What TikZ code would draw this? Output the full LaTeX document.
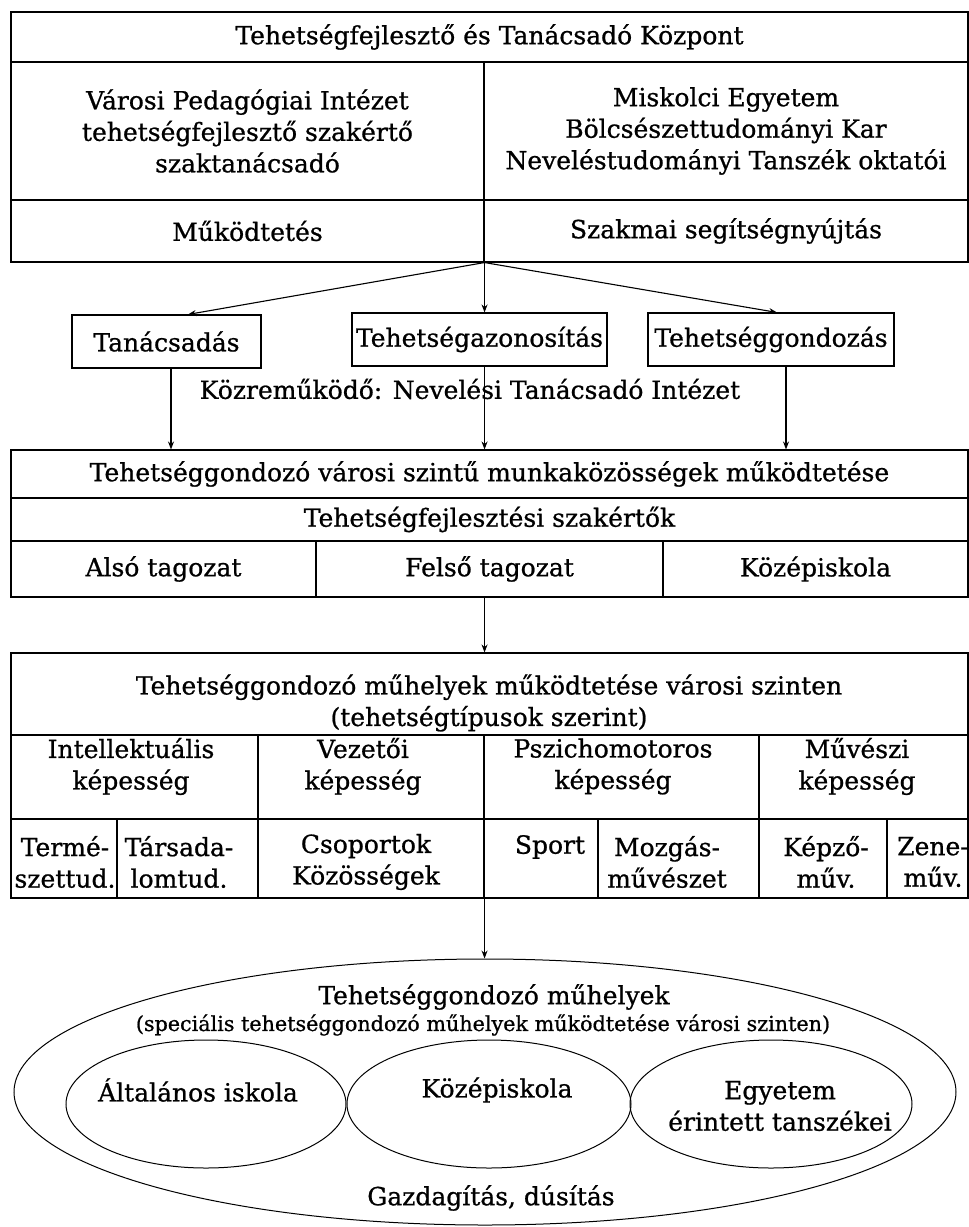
\documentclass[tikz,border=0pt]{standalone}
\usepackage{fontspec}
\setmainfont{DejaVu Serif}[FakeBold=0.8]
\usetikzlibrary{arrows.meta,shapes.geometric,calc}
\begin{document}
\begin{tikzpicture}[x=1pt,y=-1pt,
  base/.style={font=\fontsize{25}{31.5}\selectfont, text=black},
  cell/.style={base, draw=black, line width=1.1pt, rectangle, inner sep=0pt, align=center},
  txt/.style={base, inner sep=0pt, align=center},
  small/.style={font=\fontsize{20.7}{26}\selectfont, inner sep=0pt, align=center},
  ell/.style={draw=black, line width=1pt, ellipse, inner sep=0pt},
  arr/.style={draw=black, line width=1.1pt, -{Stealth[length=8pt,width=6pt]}}]
\useasboundingbox (0,0) rectangle (969,1227);
\fill[white] (0,0) rectangle (969,1227);

% centre and its two partners
\node[cell, minimum width=957pt, minimum height=50pt] (title) at (489.5,37) {Tehetségfejlesztő és Tanácsadó Központ};
\node[cell, minimum width=473pt, minimum height=138pt] (vpi) at (247.5,131) {Városi Pedagógiai Intézet\\tehetségfejlesztő szakértő\\szaktanácsadó};
\node[cell, minimum width=484pt, minimum height=138pt] (me) at (726,131) {Miskolci Egyetem\\Bölcsészettudományi Kar\\Neveléstudományi Tanszék oktatói};
\node[cell, minimum width=473pt, minimum height=62pt] (mukod) at (247.5,231) {Működtetés};
\node[cell, minimum width=484pt, minimum height=62pt] (szakm) at (726,231) {Szakmai segítségnyújtás};
\coordinate (fan) at (mukod.south east);

% three services
\node[cell, minimum width=189pt, minimum height=53pt] (tan) at (166.5,341.5) {Tanácsadás};
\node[cell, minimum width=255pt, minimum height=53pt] (azon) at (479.5,339.5) {Tehetségazonosítás};
\node[cell, minimum width=246pt, minimum height=53pt] (gond) at (771,339.5) {Tehetséggondozás};
\node[txt] (kozre) at (470,389) {Közreműködő: Nevelési Tanácsadó Intézet};

% working groups
\node[cell, minimum width=957pt, minimum height=48pt] (munka) at (489.5,474) {Tehetséggondozó városi szintű munkaközösségek működtetése};
\node[cell, minimum width=957pt, minimum height=43pt] (szak) at (489.5,519.5) {Tehetségfejlesztési szakértők};
\node[cell, minimum width=305pt, minimum height=56pt] (also) at (163.5,569) {Alsó tagozat};
\node[cell, minimum width=347pt, minimum height=56pt] (felso) at (489.5,569) {Felső tagozat};
\node[cell, minimum width=305pt, minimum height=56pt] (kozep) at (815.5,569) {Középiskola};

% workshops by talent type
\node[cell, minimum width=957pt, minimum height=82pt] (muhely) at (489.5,694) {};
\node[txt] at (489,703) {Tehetséggondozó műhelyek működtetése városi szinten\\(tehetségtípusok szerint)};

\node[cell, minimum width=247pt, minimum height=84pt] (intel) at (134.5,777) {};
\node[cell, minimum width=226pt, minimum height=84pt] (vez) at (371,777) {};
\node[cell, minimum width=275pt, minimum height=84pt] (pszi) at (621.5,777) {};
\node[cell, minimum width=209pt, minimum height=84pt] (muv) at (863.5,777) {};
\node[txt] at (131,766.5) {Intellektuális\\képesség};
\node[txt] at (363,766.5) {Vezetői\\képesség};
\node[txt] at (613,766.5) {Pszichomotoros\\képesség};
\node[txt] at (857,766.5) {Művészi\\képesség};

\node[cell, minimum width=106pt, minimum height=79pt] (term) at (64,858.5) {};
\node[cell, minimum width=141pt, minimum height=79pt] (tars) at (187.5,858.5) {};
\node[cell, minimum width=226pt, minimum height=79pt] (csop) at (371,858.5) {};
\node[cell, minimum width=114pt, minimum height=79pt] (sport) at (541,858.5) {};
\node[cell, minimum width=161pt, minimum height=79pt] (mozg) at (678.5,858.5) {};
\node[cell, minimum width=128pt, minimum height=79pt] (kepzo) at (823,858.5) {};
\node[cell, minimum width=81pt, minimum height=79pt] (zene) at (927.5,858.5) {};
\node[txt] at (65,862) {Termé-\\szettud.};
\node[txt] at (179,862) {Társada-\\lomtud.};
\node[txt] at (366,862) {Csoportok\\Közösségek};
\node[txt] at (550,847) {Sport};
\node[txt] at (667,862) {Mozgás-\\művészet};
\node[txt] at (826,862) {Képző-\\műv.};
\node[txt] at (933,862) {Zene-\\műv.};

% special workshops
\node[ell, minimum width=942pt, minimum height=266pt] (big) at (485,1092) {};
\node[ell, minimum width=280pt, minimum height=128pt] (e1) at (206,1104) {};
\node[ell, minimum width=284pt, minimum height=128pt] (e2) at (489,1104) {};
\node[ell, minimum width=282pt, minimum height=128pt] (e3) at (771,1104) {};
\node[txt] at (494,997) {Tehetséggondozó műhelyek};
\node[small] at (483,1025) {(speciális tehetséggondozó műhelyek működtetése városi szinten)};
\node[txt] at (198,1090) {Általános iskola};
\node[txt] at (497,1090) {Középiskola};
\node[txt] at (780,1106) {Egyetem\\érintett tanszékei};
\node[txt] at (491,1198) {Gazdagítás, dúsítás};

% connectors
\draw[arr] (fan) -- ([xshift=21.5pt]tan.north);
\draw[arr] (fan) -- (azon.north -| fan);
\draw[arr] (fan) -- ([xshift=6pt]gond.north);
\draw[arr] ([xshift=4.5pt]tan.south) -- ([xshift=4.5pt]tan.south |- munka.north);
\draw[arr] (azon.south -| fan) -- (munka.north -| fan);
\draw[arr] ([xshift=15pt]gond.south) -- ([xshift=15pt]gond.south |- munka.north);
\draw[arr] (felso.south -| fan) -- (muhely.north -| fan);
\draw[arr] (csop.south east) -- (csop.south east |- big.north);
\end{tikzpicture}
\end{document}
